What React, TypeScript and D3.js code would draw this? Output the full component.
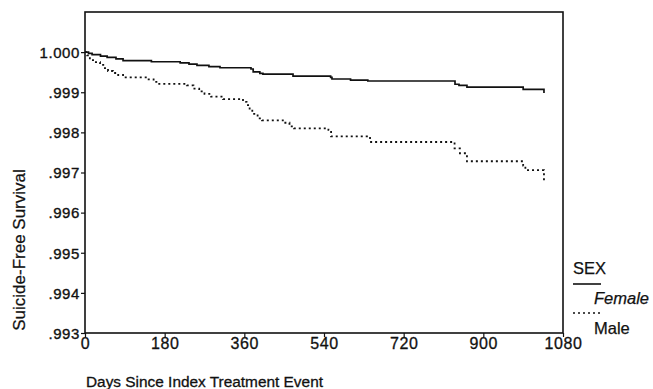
import * as d3 from "d3";
import { useEffect, useRef } from "react";

// Kaplan-Meier step data
const femaleDays = [0, 8, 16, 35, 50, 70, 86, 150, 215, 235, 253, 280, 305, 375, 380, 395, 402, 470, 555, 558, 600, 639, 836, 845, 863, 990, 1037];
const femaleSurv = [1.0, 0.99997, 0.99994, 0.9999, 0.99987, 0.99983, 0.99979, 0.99976, 0.99973, 0.9997, 0.99967, 0.99964, 0.99961, 0.99958, 0.99951, 0.99947, 0.99945, 0.9994, 0.99937, 0.99933, 0.9993, 0.99928, 0.9992, 0.99917, 0.99913, 0.99907, 0.99898];

const maleDays = [0, 5, 11, 22, 34, 45, 52, 63, 75, 86, 140, 155, 165, 230, 245, 258, 270, 285, 312, 357, 365, 372, 378, 390, 400, 447, 462, 472, 550, 556, 637, 644, 835, 847, 863, 990, 995, 1037, 1037];
const maleSurv = [1.0, 0.99992, 0.9998, 0.99975, 0.99968, 0.9996, 0.99953, 0.99948, 0.99943, 0.99937, 0.99932, 0.99926, 0.99921, 0.99917, 0.99909, 0.99902, 0.99896, 0.99889, 0.99883, 0.99876, 0.99868, 0.99857, 0.99846, 0.99835, 0.9983, 0.99824, 0.99815, 0.9981, 0.99806, 0.9979, 0.99786, 0.99776, 0.9976, 0.99748, 0.99728, 0.99717, 0.99706, 0.99706, 0.99676];

const xTicks = [0, 180, 360, 540, 720, 900, 1080];
const yTicks = [0.993, 0.994, 0.995, 0.996, 0.997, 0.998, 0.999, 1.0];
const yTickLabels = [".993", ".994", ".995", ".996", ".997", ".998", ".999", "1.000"];

const FONT = "'Liberation Sans', Arial, sans-serif";
const INK = "#111";

export default function App() {
  const svgRef = useRef<SVGSVGElement>(null);
  const width = 653;
  const height = 389;

  useEffect(() => {
    if (!svgRef.current) return;
    const svg = d3.select(svgRef.current);
    svg.selectAll("*").remove();

    const left = 85, right = 563, top = 12, bottom = 333;
    const x = d3.scaleLinear().domain([0, 1080]).range([left, right]);
    const y = d3.scaleLinear().domain([0.993, 1.001]).range([bottom, top]);

    // frame
    svg.append("rect")
      .attr("x", left).attr("y", top)
      .attr("width", right - left).attr("height", bottom - top)
      .attr("fill", "none").attr("stroke", INK).attr("stroke-width", 1.6);

    // y axis ticks + labels
    const ya = svg.append("g").attr("transform", `translate(${left},0)`)
      .call(d3.axisLeft(y).tickValues(yTicks).tickSize(4)
        .tickFormat((_, i) => yTickLabels[i]));
    ya.select("path.domain").remove();
    ya.selectAll("line").attr("stroke", INK).attr("stroke-width", 1.2);
    ya.selectAll("text")
      .attr("font-family", FONT).attr("font-size", 15).attr("letter-spacing", 0.6)
      .attr("fill", INK).attr("stroke", INK).attr("stroke-width", 0.35)
      .attr("x", -5).attr("dy", "0.35em");

    // x axis ticks + labels
    const xa = svg.append("g").attr("transform", `translate(0,${bottom})`)
      .call(d3.axisBottom(x).tickValues(xTicks).tickSize(4).tickFormat(d3.format("d")));
    xa.select("path.domain").remove();
    xa.selectAll("line").attr("stroke", INK).attr("stroke-width", 1.2);
    xa.selectAll("text")
      .attr("font-family", FONT).attr("font-size", 16).attr("letter-spacing", 0.6)
      .attr("fill", INK).attr("stroke", INK).attr("stroke-width", 0.3)
      .attr("y", 5).attr("dy", "0.71em");

    // curves
    const line = d3.line<[number, number]>()
      .x((d) => x(d[0])).y((d) => y(d[1]))
      .curve(d3.curveStepAfter);
    const female = femaleDays.map((d, i) => [d, femaleSurv[i]] as [number, number]);
    const male = maleDays.map((d, i) => [d, maleSurv[i]] as [number, number]);

    svg.append("path").attr("d", line(female))
      .attr("fill", "none").attr("stroke", INK).attr("stroke-width", 1.7);
    svg.append("path").attr("d", line(male))
      .attr("fill", "none").attr("stroke", INK).attr("stroke-width", 1.8)
      .attr("stroke-dasharray", "2,3");

    // axis titles
    svg.append("text")
      .attr("transform", `translate(25,250) rotate(-90)`)
      .attr("text-anchor", "middle").attr("font-family", FONT).attr("font-size", 17)
      .attr("fill", INK).attr("stroke", INK).attr("stroke-width", 0.25)
      .text("Suicide-Free Survival");
    svg.append("text")
      .attr("x", 86).attr("y", 387)
      .attr("font-family", FONT).attr("font-size", 15.4)
      .attr("fill", INK).attr("stroke", INK).attr("stroke-width", 0.3)
      .text("Days Since Index Treatment Event");

    // legend
    const lg = svg.append("g").attr("font-family", FONT).attr("fill", INK)
      .attr("stroke", INK).attr("stroke-width", 0.25);
    lg.append("text").attr("x", 573).attr("y", 274).attr("font-size", 16.5).text("SEX");
    lg.append("line").attr("x1", 573).attr("x2", 601).attr("y1", 284).attr("y2", 284)
      .attr("stroke-width", 1.6);
    lg.append("text").attr("x", 594).attr("y", 304).attr("font-size", 16.5)
      .attr("font-style", "italic").text("Female");
    lg.append("line").attr("x1", 573).attr("x2", 601).attr("y1", 313).attr("y2", 313)
      .attr("stroke-width", 1.6).attr("stroke-dasharray", "2,3");
    lg.append("text").attr("x", 594).attr("y", 334).attr("font-size", 16.5).text("Male");
  }, []);

  return (
    <svg
      ref={svgRef}
      width={width}
      height={height}
      style={{ position: "absolute", left: 0, top: 0, background: "#fff" }}
    />
  );
}
